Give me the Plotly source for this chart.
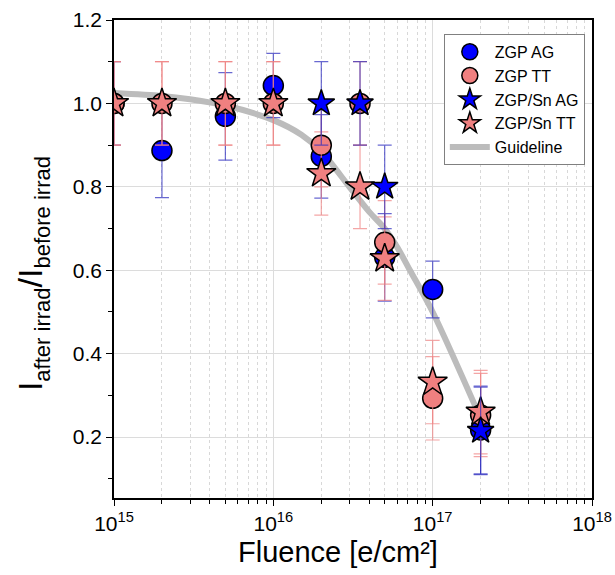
import plotly.graph_objects as go

# Data
zgp_ag_x = [1e15, 2e15, 5e15, 1e16, 2e16, 5e16, 1e17, 2e17]
zgp_ag_y = [1.0, 0.887, 0.969, 1.043, 0.873, 0.631, 0.554, 0.217]
zgp_ag_err = [0.1, 0.113, 0.105, 0.077, 0.1, 0.105, 0.068, 0.105]

zgp_tt_x = [1e15, 2e15, 5e15, 1e16, 2e16, 3.5e16, 5e16, 1e17, 2e17]
zgp_tt_y = [1.0, 1.0, 1.0, 1.0, 0.90, 1.0, 0.667, 0.293, 0.253]
zgp_tt_err = [0.1, 0.1, 0.1, 0.1, 0.1, 0.1, 0.1, 0.1, 0.1]

sn_ag_x = [2e16, 3.5e16, 5e16, 2e17]
sn_ag_y = [1.0, 1.0, 0.80, 0.215]
sn_ag_err = [0.1, 0.1, 0.1, 0.105]

sn_tt_x = [1e15, 2e15, 5e15, 1e16, 2e16, 3.5e16, 5e16, 1e17, 2e17]
sn_tt_y = [1.0, 1.0, 1.0, 1.0, 0.832, 0.80, 0.628, 0.332, 0.26]
sn_tt_err = [0.1, 0.1, 0.1, 0.1, 0.1, 0.1, 0.1, 0.1, 0.1]

guide_x = [1e15, 2e15, 3e15, 5e15, 1e16, 1.5e16, 2e16, 3e16, 4e16, 5e16, 6e16, 7.2e16, 1e17, 2e17]
guide_y = [1.025, 1.018, 1.01, 0.995, 0.96, 0.925, 0.885, 0.80, 0.74, 0.70, 0.655, 0.60, 0.50, 0.245]

x_tickvals = [1e15, 1e16, 1e17, 1e18]
x_ticktext = ["10<sup>15</sup>", "10<sup>16</sup>", "10<sup>17</sup>", "10<sup>18</sup>"]
y_tickvals = [0.2, 0.4, 0.6, 0.8, 1.0, 1.2]
y_ticktext = ["0.2", "0.4", "0.6", "0.8", "1.0", "1.2"]

x_title = "Fluence [e/cm²]"
y_title = ("I<sub><span style='font-size:22px'>after irrad</span></sub>/I"
           "<sub><span style='font-size:22px'>before irrad</span></sub>")

BLUE = "#0000FF"
PINK = "#F08080"
BLUE_ERR = "rgba(40,40,190,0.7)"
PINK_ERR = "rgba(240,128,128,0.7)"
FONT = "Liberation Sans, Arial, sans-serif"

fig = go.Figure()

fig.add_trace(go.Scatter(
    x=guide_x, y=guide_y, mode="lines", name="Guideline",
    line=dict(color="#bcbcbc", width=6, shape="spline", smoothing=0.8),
    legendrank=5))

fig.add_trace(go.Scatter(
    x=zgp_ag_x, y=zgp_ag_y, mode="markers", name="ZGP AG",
    marker=dict(symbol="circle", size=20, color=BLUE, line=dict(color="black", width=1.5)),
    error_y=dict(type="data", array=zgp_ag_err, color=BLUE_ERR, thickness=1.2, width=7),
    legendrank=1))

fig.add_trace(go.Scatter(
    x=zgp_tt_x, y=zgp_tt_y, mode="markers", name="ZGP TT",
    marker=dict(symbol="circle", size=20, color=PINK, line=dict(color="black", width=1.5)),
    error_y=dict(type="data", array=zgp_tt_err, color=PINK_ERR, thickness=1.2, width=7),
    legendrank=2))

fig.add_trace(go.Scatter(
    x=sn_tt_x, y=sn_tt_y, mode="markers", name="ZGP/Sn TT",
    marker=dict(symbol="star", size=22, color=PINK, line=dict(color="black", width=1.5)),
    error_y=dict(type="data", array=sn_tt_err, color=PINK_ERR, thickness=1.2, width=7),
    legendrank=4))

fig.add_trace(go.Scatter(
    x=sn_ag_x, y=sn_ag_y, mode="markers", name="ZGP/Sn AG",
    marker=dict(symbol="star", size=20, color=BLUE, line=dict(color="black", width=1.5)),
    error_y=dict(type="data", array=sn_ag_err, color=BLUE_ERR, thickness=1.2, width=7),
    legendrank=3))

fig.update_layout(
    width=615, height=575,
    margin=dict(l=114, r=23, t=20, b=77),
    paper_bgcolor="white", plot_bgcolor="white",
    font=dict(family=FONT, color="black"),
    showlegend=True,
    legend=dict(x=0.69, y=0.971, xanchor="left", yanchor="top",
                bordercolor="#808080", borderwidth=1, bgcolor="white",
                font=dict(size=16), tracegroupgap=0, itemwidth=40),
    annotations=[
        dict(text=x_title, xref="paper", yref="paper", x=0.469, y=-0.113,
             xanchor="center", yanchor="middle", showarrow=False,
             font=dict(size=29, family=FONT, color="black")),
        dict(text=y_title, xref="paper", yref="paper", x=-0.17, y=0.47,
             xanchor="center", yanchor="middle", showarrow=False, textangle=-90,
             font=dict(size=34, family=FONT, color="black")),
    ],
)

fig.update_xaxes(
    type="log", range=[15, 18], automargin=False,
    tickvals=x_tickvals, ticktext=x_ticktext,
    tickfont=dict(size=21),
    showline=True, linecolor="black", linewidth=1.5, mirror=True,
    ticks="outside", ticklen=6, tickcolor="black",
    showgrid=True, gridcolor="#dcdcdc", gridwidth=1,
    minor=dict(dtick="D1", showgrid=True, gridcolor="#d8d8d8", griddash="dot",
               ticks="outside", ticklen=4, tickcolor="black"),
    zeroline=False,
)

fig.update_yaxes(
    range=[0.054, 1.2], automargin=False,
    tickvals=y_tickvals, ticktext=y_ticktext,
    tickfont=dict(size=21),
    showline=True, linecolor="black", linewidth=1.5, mirror=True,
    ticks="outside", ticklen=6, tickcolor="black",
    showgrid=True, gridcolor="#dcdcdc", gridwidth=1,
    minor=dict(tickvals=[0.1, 0.3, 0.5, 0.7, 0.9, 1.1], ticks="outside", ticklen=4,
               tickcolor="black", showgrid=False),
    zeroline=False,
)

fig.write_html("out.html",
               config={"displayModeBar": False},
               post_script="document.body.style.margin='0';document.body.style.overflow='hidden';")
